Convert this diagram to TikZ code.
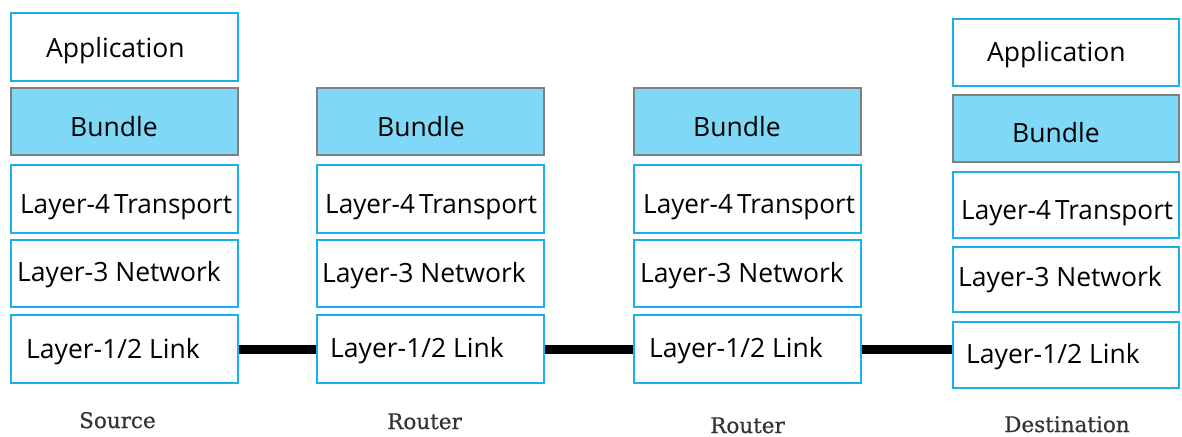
\documentclass[tikz,border=0pt]{standalone}
\usepackage{fontspec}
\usepackage{graphicx}
\setmainfont{Open Sans}
\newfontfamily\capfont[FakeBold=0.6]{DejaVu Serif}
\definecolor{boxblue}{HTML}{1AB0EC}
\definecolor{bundlefill}{HTML}{80D8F7}
\definecolor{boxgray}{HTML}{808080}
\definecolor{capgray}{HTML}{333333}
\begin{document}
\begin{tikzpicture}[x=1pt,y=-1pt,
  layerbox/.style={draw=boxblue, fill=white, line width=2.2pt, inner sep=0pt, anchor=north west, minimum width=227pt, minimum height=68pt},
  bundlebox/.style={layerbox, draw=boxgray, fill=bundlefill},
  lbl/.style={anchor=base west, inner sep=0pt, font=\fontsize{26.5pt}{30pt}\selectfont},
  caplbl/.style={anchor=base west, inner sep=0pt, text=capgray, font=\capfont\fontsize{21.5pt}{25pt}\selectfont},
  linkline/.style={line width=9pt}]
\useasboundingbox (0,0) rectangle (1182,436);
% Source column
\node[layerbox] (s-app) at (10,12) {};
\node[bundlebox, minimum height=67pt] (s-bun) at (10,87) {};
\node[layerbox] (s-tr) at (10,164) {};
\node[layerbox, minimum height=67pt] (s-net) at (10,239) {};
\node[layerbox] (s-link) at (10,314) {};
\node[lbl] (s-app-t) at (46,57) {Application};
\node[lbl] (s-bun-t) at (70,136) {Bundle};
\node[lbl] (s-tr-t) at (20,213) {\scalebox{0.985}[1]{Layer-4\hspace{-0.1em} Transport}};
\node[lbl] (s-net-t) at (17,281) {Layer-3 Network};
\node[lbl] (s-link-t) at (26,358) {Layer-1/2 Link};
\node[caplbl] (s-cap) at (79,428) {Source};
% Router 1
\node[bundlebox, minimum height=67pt] (r1-bun) at (316,87) {};
\node[layerbox] (r1-tr) at (316,164) {};
\node[layerbox, minimum height=67pt] (r1-net) at (316,239) {};
\node[layerbox] (r1-link) at (316,314) {};
\node[lbl] (r1-bun-t) at (377,136) {Bundle};
\node[lbl] (r1-tr-t) at (325,213) {\scalebox{0.985}[1]{Layer-4\hspace{-0.1em} Transport}};
\node[lbl] (r1-net-t) at (322,282) {Layer-3 Network};
\node[lbl] (r1-link-t) at (330,357) {Layer-1/2 Link};
\node[caplbl] (r1-cap) at (387,429) {Router};
% Router 2
\node[bundlebox, minimum height=67pt] (r2-bun) at (633,87) {};
\node[layerbox] (r2-tr) at (633,164) {};
\node[layerbox, minimum height=67pt] (r2-net) at (633,239) {};
\node[layerbox] (r2-link) at (633,314) {};
\node[lbl] (r2-bun-t) at (693,136) {Bundle};
\node[lbl] (r2-tr-t) at (643,213) {\scalebox{0.985}[1]{Layer-4\hspace{-0.1em} Transport}};
\node[lbl] (r2-net-t) at (640,282) {Layer-3 Network};
\node[lbl] (r2-link-t) at (649,357) {Layer-1/2 Link};
\node[caplbl] (r2-cap) at (710,433) {Router};
% Destination
\node[layerbox, minimum width=226pt, minimum height=67pt] (d-app) at (952,18) {};
\node[bundlebox, minimum width=226pt, minimum height=67pt] (d-bun) at (952,94) {};
\node[layerbox, minimum width=226pt, minimum height=66pt] (d-tr) at (952,171) {};
\node[layerbox, minimum width=226pt, minimum height=65pt] (d-net) at (952,246) {};
\node[layerbox, minimum width=226pt, minimum height=66pt] (d-link) at (952,321) {};
\node[lbl] (d-app-t) at (987,62) {Application};
\node[lbl] (d-bun-t) at (1012,142) {Bundle};
\node[lbl] (d-tr-t) at (961,219) {\scalebox{0.985}[1]{Layer-4\hspace{-0.1em} Transport}};
\node[lbl] (d-net-t) at (958,286) {Layer-3 Network};
\node[lbl] (d-link-t) at (966,363) {Layer-1/2 Link};
\node[caplbl] (d-cap) at (1004,432) {Destination};
% links
\draw[linkline] (s-link.east) -- (r1-link.west);
\draw[linkline] (r1-link.east) -- (r2-link.west);
\draw[linkline] (r2-link.east) -- (r2-link.east -| d-link.west);
\end{tikzpicture}
\end{document}
